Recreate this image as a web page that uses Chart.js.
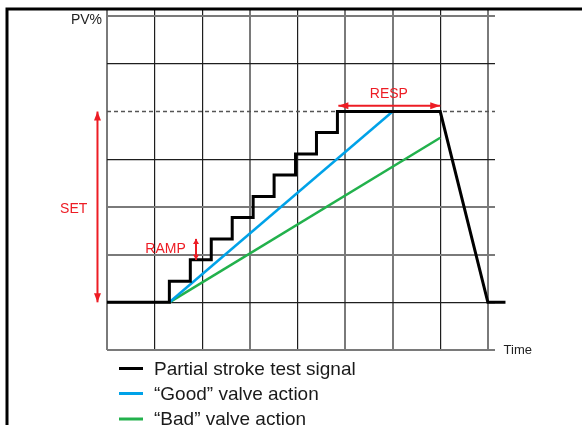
<!DOCTYPE html>
<html>
<head>
<meta charset="utf-8">
<script src="https://cdn.jsdelivr.net/npm/chart.js@4/dist/chart.umd.min.js"></script>
<style>
  html, body { margin: 0; padding: 0; background: #fff; }
  #wrap { position: relative; width: 582px; height: 425px; }
</style>
</head>
<body>
<div id="wrap"><canvas id="chart" width="582" height="425"></canvas></div>
<script>
// grid ticks (time units / PV units)
const xTicks = [0, 1, 2, 3, 4, 5, 6, 7, 8];
const yTicks = [0, 1, 2, 3, 4, 5, 6, 7];

// partial stroke test signal (staircase ramp, hold, return)
const signalX = [0, 1.31, 1.31, 1.75, 1.75, 2.19, 2.19, 2.63, 2.63, 3.07, 3.07, 3.51, 3.51,
                 3.96, 3.96, 4.40, 4.40, 4.84, 4.84, 7.0, 8.0, 8.37];
const signalY = [1, 1, 1.44, 1.44, 1.89, 1.89, 2.33, 2.33, 2.78, 2.78, 3.22, 3.22, 3.67,
                 3.67, 4.11, 4.11, 4.56, 4.56, 5.0, 5.0, 1.0, 1.0];

// valve responses
const goodX = [1.31, 6.0];
const goodY = [1, 5];
const badX = [1.31, 7.0];
const badY = [1, 4.45];

// setpoint level (dashed)
const setX = [0, 8.15];
const setY = [5, 5];

const seriesNames = ['Partial stroke test signal', '\u201cGood\u201d valve action', '\u201cBad\u201d valve action'];

function pts(xs, ys) {
    return xs.map((x, i) => ({x: x, y: ys[i]}));
}

const GRAY = '#7a7a7a';
const DARK = '#1e1e1e';
const RED = '#ed1c24';
const xGridColors = [GRAY, DARK, DARK, GRAY, DARK, GRAY, GRAY, DARK, GRAY];
const yGridColors = [GRAY, DARK, GRAY, GRAY, DARK, 'rgba(0,0,0,0)', DARK, GRAY];

function arrow(ctx, x1, y1, x2, y2, len, half) {
    ctx.beginPath();
    ctx.moveTo(x1, y1);
    ctx.lineTo(x2, y2);
    ctx.stroke();
    const a = Math.atan2(y2 - y1, x2 - x1);
    [[x2, y2, a], [x1, y1, a + Math.PI]].forEach(([tx, ty, ang]) => {
        ctx.beginPath();
        ctx.moveTo(tx, ty);
        ctx.lineTo(tx - len * Math.cos(ang) + half * Math.sin(ang), ty - len * Math.sin(ang) - half * Math.cos(ang));
        ctx.lineTo(tx - len * Math.cos(ang) - half * Math.sin(ang), ty - len * Math.sin(ang) + half * Math.cos(ang));
        ctx.closePath();
        ctx.fill();
    });
}

const extras = {
    id: 'extras',
    afterDraw(chart) {
        const ctx = chart.ctx;
        const xs = chart.scales.x, ys = chart.scales.y;
        ctx.save();

        // red annotations
        ctx.strokeStyle = RED;
        ctx.fillStyle = RED;
        ctx.lineWidth = 2;
        arrow(ctx, xs.getPixelForValue(-0.2), ys.getPixelForValue(5), xs.getPixelForValue(-0.2), ys.getPixelForValue(1), 9, 3.5);
        arrow(ctx, xs.getPixelForValue(1.87), ys.getPixelForValue(2.33), xs.getPixelForValue(1.87), ys.getPixelForValue(1.89), 5, 3);
        arrow(ctx, xs.getPixelForValue(4.86), ys.getPixelForValue(5.12), xs.getPixelForValue(7.0), ys.getPixelForValue(5.12), 10, 3.5);

        ctx.font = '14px "Liberation Sans", Arial, sans-serif';
        ctx.textAlign = 'center';
        ctx.textBaseline = 'middle';
        ctx.fillText('SET', xs.getPixelForValue(-0.7), ys.getPixelForValue(2.96));
        ctx.fillText('RAMP', xs.getPixelForValue(1.23), ys.getPixelForValue(2.12));
        ctx.fillText('RESP', xs.getPixelForValue(5.92), ys.getPixelForValue(5.37));

        // axis names
        ctx.fillStyle = '#222';
        ctx.font = '14px "Liberation Sans", Arial, sans-serif';
        ctx.textAlign = 'right';
        ctx.fillText('PV%', xs.left - 5, ys.getPixelForValue(6.91));
        ctx.font = '13px "Liberation Sans", Arial, sans-serif';
        ctx.textAlign = 'left';
        ctx.fillText('Time', xs.getPixelForValue(8.33), ys.getPixelForValue(0));

        // legend
        ctx.font = '19px "Liberation Sans", Arial, sans-serif';
        const rows = [368.5, 393.5, 419];
        seriesNames.forEach((name, i) => {
            const ds = chart.data.datasets[i];
            ctx.strokeStyle = ds.borderColor;
            ctx.lineWidth = 3;
            ctx.beginPath();
            ctx.moveTo(119, rows[i]);
            ctx.lineTo(143, rows[i]);
            ctx.stroke();
            ctx.fillStyle = '#1a1a1a';
            ctx.fillText(name, 154, rows[i] + 1);
        });

        // frame
        ctx.strokeStyle = '#000';
        ctx.lineWidth = 3;
        ctx.beginPath();
        ctx.moveTo(7, 425);
        ctx.lineTo(7, 9);
        ctx.lineTo(582, 9);
        ctx.stroke();
        ctx.restore();
    }
};

new Chart(document.getElementById('chart'), {
    type: 'scatter',
    data: {
        datasets: [
            { label: seriesNames[0], data: pts(signalX, signalY), borderColor: '#000', borderWidth: 3,
              showLine: true, pointRadius: 0, clip: false, order: 0 },
            { label: seriesNames[1], data: pts(goodX, goodY), borderColor: '#00a2e8', borderWidth: 2.5,
              showLine: true, pointRadius: 0, order: 1 },
            { label: seriesNames[2], data: pts(badX, badY), borderColor: '#22b14c', borderWidth: 2.5,
              showLine: true, pointRadius: 0, order: 2 },
            { label: 'setpoint', data: pts(setX, setY), borderColor: '#555', borderWidth: 1.5,
              borderDash: [4, 3], showLine: true, pointRadius: 0, order: 3 }
        ]
    },
    options: {
        responsive: false,
        animation: false,
        layout: { padding: { left: 107, right: 87, top: 9.5, bottom: 75 } },
        plugins: { legend: { display: false }, tooltip: { enabled: false } },
        scales: {
            x: {
                type: 'linear', min: 0, max: 8.15,
                afterBuildTicks: s => { s.ticks = xTicks.map(v => ({value: v})); },
                ticks: { display: false },
                border: { display: false },
                grid: {
                    drawTicks: false,
                    color: c => xGridColors[c.index] || DARK,
                    lineWidth: c => (xGridColors[c.index] === GRAY ? 2 : 1.2)
                }
            },
            y: {
                type: 'linear', min: 0, max: 7.14,
                afterBuildTicks: s => { s.ticks = yTicks.map(v => ({value: v})); },
                ticks: { display: false },
                border: { display: false },
                grid: {
                    drawTicks: false,
                    color: c => yGridColors[c.index] || DARK,
                    lineWidth: c => (yGridColors[c.index] === GRAY ? 2 : 1.2)
                }
            }
        }
    },
    plugins: [extras]
});
</script>
</body>
</html>
